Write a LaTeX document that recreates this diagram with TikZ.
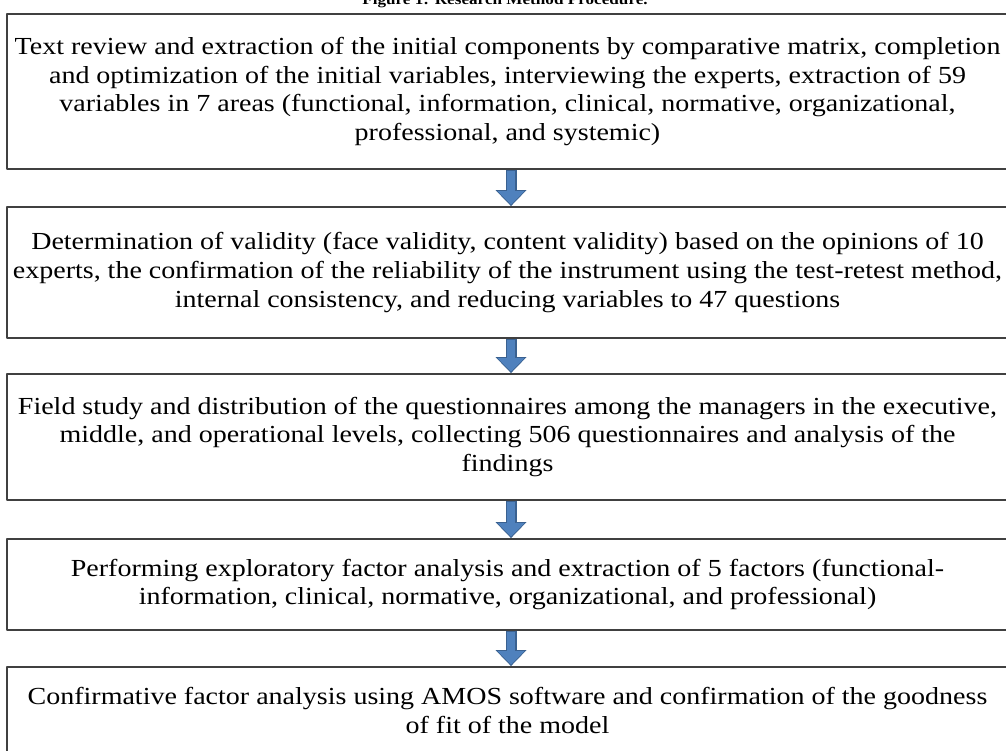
\documentclass[tikz,border=0pt]{standalone}
\usepackage{fontspec}
\setmainfont[FakeStretch=1.143]{Liberation Serif}
\usetikzlibrary{arrows.meta}
\definecolor{arrowblue}{HTML}{4F81BD}
\definecolor{arrowedge}{HTML}{3A6190}
\definecolor{boxgray}{HTML}{404040}
\begin{document}
\begin{tikzpicture}[x=1pt, y=-1pt, font=\fontsize{24.5}{28.6}\selectfont, line join=round,
	stage/.style={draw=boxgray, line width=1.8pt, minimum width=1001pt, align=center, inner sep=0pt},
	flowout/.style={line width=11pt, arrowedge, -{Triangle[width=30pt,length=16pt]}},
	flowin/.style={line width=8.5pt, arrowblue, -{Triangle[width=26pt,length=13.5pt]}}]
	
	\def\xmid{507.5} \def\xarr{3.5pt}
	\useasboundingbox (0,0) rectangle (1006,751);
	
	\node[font=\bfseries\fontsize{15}{18}\selectfont, anchor=base] (title) at (505,5) {Figure 1: Research Method Procedure.};
	
	\node[stage, minimum height=155pt] (s1) at (\xmid,91.5) {Text review and extraction of the initial components by comparative matrix, completion\\
		and optimization of the initial variables, interviewing the experts, extraction of 59\\
		variables in 7 areas (functional, information, clinical, normative, organizational,\\
		professional, and systemic)};
	\node[stage, minimum height=131pt] (s2) at (\xmid,272.5) {Determination of validity (face validity, content validity) based on the opinions of 10\\
		experts, the confirmation of the reliability of the instrument using the test-retest method,\\
		internal consistency, and reducing variables to 47 questions};
	\node[stage, minimum height=126pt] (s3) at (\xmid,437) {Field study and distribution of the questionnaires among the managers in the executive,\\
		middle, and operational levels, collecting 506 questionnaires and analysis of the\\
		findings};
	\node[stage, minimum height=91pt] (s4) at (\xmid,584.5) {Performing exploratory factor analysis and extraction of 5 factors (functional-\\
		information, clinical, normative, organizational, and professional)};
	\node[stage, minimum height=87pt] (s5) at (\xmid,710.5) {Confirmative factor analysis using AMOS software and confirmation of the goodness\\
		of fit of the model};
	
	% arrows between the stages
	\foreach \a/\b in {s1/s2, s2/s3, s3/s4, s4/s5}{
		\draw[flowout] ([xshift=\xarr]\a.south) -- ([xshift=\xarr]\b.north);
		\draw[flowin] ([xshift=\xarr,yshift=-1pt]\a.south) -- ([xshift=\xarr,yshift=1.5pt]\b.north);
	}
\end{tikzpicture}
\end{document}
